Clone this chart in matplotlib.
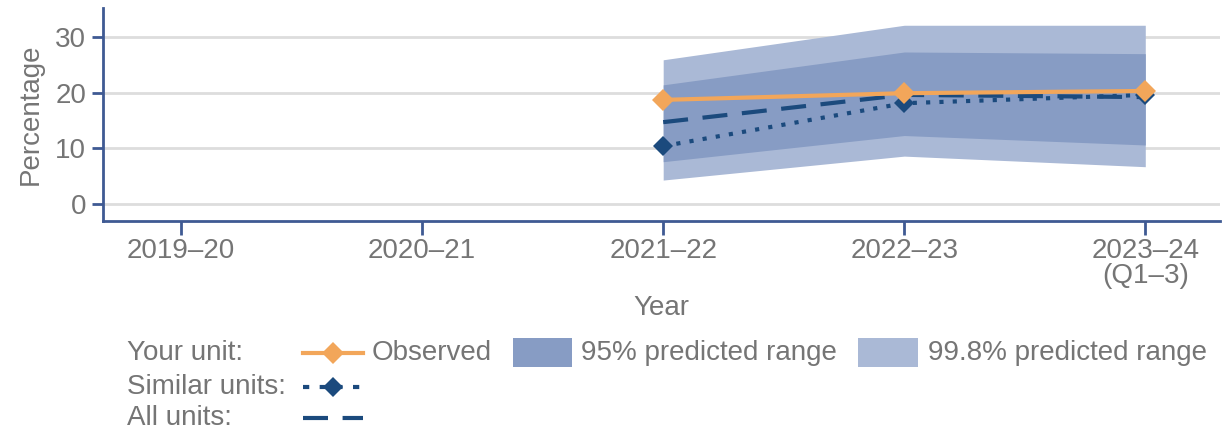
import matplotlib
matplotlib.use("Agg")
import matplotlib.pyplot as plt
from matplotlib.lines import Line2D
from matplotlib.patches import Rectangle

plt.rcParams['font.family'] = ['Liberation Sans', 'DejaVu Sans']

years = ["2019\u201320", "2020\u201321", "2021\u201322", "2022\u201323", "2023\u201324\n(Q1\u20133)"]
x_idx = [2, 3, 4]
observed = [18.7, 19.9, 20.3]
similar = [10.4, 18.1, 19.6]
all_units = [14.7, 19.6, 19.2]
p95_low = [7.6, 12.3, 10.6]
p95_high = [21.4, 27.3, 27.0]
p998_low = [4.3, 8.6, 6.7]
p998_high = [25.9, 32.1, 32.1]

ORANGE = "#F2A65A"
DBLUE = "#1B4A7D"
C95 = "#879CC4"
C998 = "#AAB9D6"
SPINE = "#3F5A93"
GREY = "#757575"
FS = 20

W, H = 1225, 433
fig = plt.figure(figsize=(W / 100, H / 100), dpi=100)
ax = fig.add_axes([103 / W, 1 - 221 / H, (1220 - 103) / W, (221 - 8) / H])

ax.fill_between(x_idx, p998_low, p998_high, color=C998, lw=0, zorder=1)
ax.fill_between(x_idx, p95_low, p95_high, color=C95, lw=0, zorder=2)
ax.plot(x_idx, all_units, color=DBLUE, lw=3, ls=(0, (6, 3.5)), zorder=3)
ax.plot(x_idx, similar, color=DBLUE, lw=3, ls=(0, (1, 2.2)), marker='D', ms=10,
        markeredgewidth=0, zorder=4)
ax.plot(x_idx, observed, color=ORANGE, lw=3, marker='D', ms=11,
        markeredgewidth=0, zorder=5)

ax.set_xlim(-0.324, 4.31)
ax.set_ylim(-3.05, 35.2)
ax.set_yticks([0, 10, 20, 30])
ax.set_xticks(range(len(years)))
ax.set_xticklabels(years, linespacing=0.95)
ax.grid(axis='y', color='#DDDDDD', lw=2, zorder=0)
ax.set_axisbelow(True)
for s in ['top', 'right']:
    ax.spines[s].set_visible(False)
for s in ['left', 'bottom']:
    ax.spines[s].set_color(SPINE)
    ax.spines[s].set_linewidth(2)
ax.tick_params(axis='y', colors=SPINE, length=8, width=2, labelsize=FS,
               labelcolor=GREY, pad=4)
ax.tick_params(axis='x', colors=SPINE, length=10, width=2, labelsize=FS,
               labelcolor=GREY, pad=2.5)
ax.set_ylabel("Percentage", fontsize=FS, color=GREY, labelpad=8)
ax.set_xlabel("Year", fontsize=FS, color=GREY, labelpad=4)

def fx(px):
    return px / W

def fy(py):
    return 1 - py / H

rows = [("Your unit:", 353), ("Similar units:", 387), ("All units:", 418)]
for label, yy in rows:
    fig.text(fx(127), fy(yy), label, fontsize=FS, color=GREY, va='center', ha='left')

# Row 1: observed
fig.add_artist(Line2D([fx(303), fx(363)], [fy(353), fy(353)], color=ORANGE, lw=3))
fig.add_artist(Line2D([fx(333)], [fy(353)], color=ORANGE, marker='D', ms=11,
                      markeredgewidth=0))
fig.text(fx(372), fy(353), "Observed", fontsize=FS, color=GREY, va='center')
fig.add_artist(Rectangle((fx(513), fy(367)), fx(572 - 513), (367 - 338) / H,
                         color=C95, lw=0))
fig.text(fx(581), fy(353), "95% predicted range", fontsize=FS, color=GREY, va='center')
fig.add_artist(Rectangle((fx(858), fy(367)), fx(918 - 858), (367 - 338) / H,
                         color=C998, lw=0))
fig.text(fx(928), fy(353), "99.8% predicted range", fontsize=FS, color=GREY, va='center')

# Row 2: similar
fig.add_artist(Line2D([fx(303), fx(360)], [fy(387), fy(387)], color=DBLUE, lw=3,
                      ls=(0, (1.5, 2.5))))
fig.add_artist(Line2D([fx(333)], [fy(387)], color=DBLUE, marker='D', ms=10,
                      markeredgewidth=0))
# Row 3: all units
fig.add_artist(Line2D([fx(303), fx(363)], [fy(418), fy(418)], color=DBLUE, lw=3,
                      ls=(0, (6, 3.5))))

fig.savefig("out.png", dpi=100)
